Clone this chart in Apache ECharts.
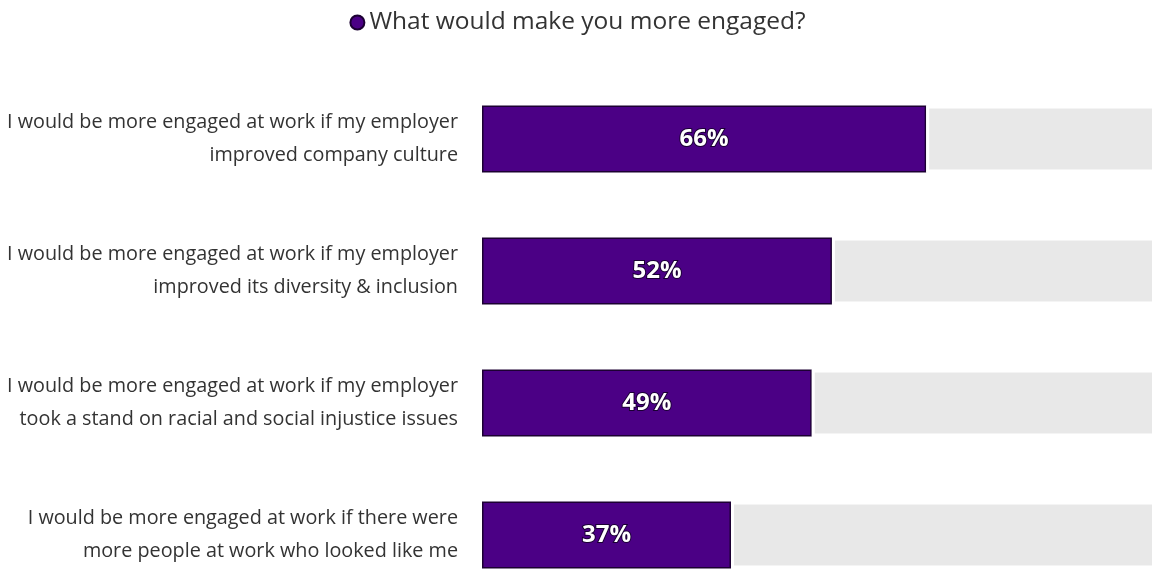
<!DOCTYPE html>
<html>
<head>
<meta charset="utf-8">
<script src="https://cdn.jsdelivr.net/npm/echarts@6/dist/echarts.min.js"></script>
<style>
  html, body { margin: 0; padding: 0; background: #fff; }
  #chart { width: 1155px; height: 572px; }
</style>
</head>
<body>
<div id="chart"></div>
<script>
// Survey statements and share of respondents agreeing (%)
const categories = [
  'I would be more engaged at work if my employer\nimproved company culture',
  'I would be more engaged at work if my employer\nimproved its diversity & inclusion',
  'I would be more engaged at work if my employer\ntook a stand on racial and social injustice issues',
  'I would be more engaged at work if there were\nmore people at work who looked like me'
];
const seriesName = 'What would make you more engaged?';
const values = [66, 52, 49, 37];
const scaleMax = 100;

// Remaining share that fills the grey track up to 100%
const remainder = values.map(v => scaleMax - v);

const chart = echarts.init(document.getElementById('chart'));
chart.setOption({
  animation: false,
  backgroundColor: '#ffffff',
  textStyle: { fontFamily: '"Open Sans", sans-serif' },
  legend: {
    data: [{ name: seriesName, icon: 'circle' }],
    top: 5,
    left: 'center',
    itemWidth: 14,
    itemHeight: 14,
    itemGap: 17,
    textStyle: { fontSize: 24.5, color: '#333', fontFamily: '"Open Sans", sans-serif' }
  },
  // category centres sit on the top and bottom grid edges
  grid: { left: 482, right: 0, top: 139, height: 396, containLabel: false },
  xAxis: {
    type: 'value',
    min: 0,
    max: scaleMax,
    show: false
  },
  yAxis: {
    type: 'category',
    inverse: true,
    boundaryGap: false,
    data: categories,
    axisLine: { show: false },
    axisTick: { show: false },
    axisLabel: {
      margin: 24,
      align: 'right',
      fontSize: 19.8,
      lineHeight: 33,
      color: '#333',
      fontFamily: '"Open Sans", sans-serif'
    }
  },
  series: [
    {
      name: seriesName,
      type: 'bar',
      stack: 'total',
      barWidth: 67,
      data: values,
      itemStyle: { color: '#4b0085', borderColor: '#1c0033', borderWidth: 1.5 },
      label: {
        show: true,
        position: 'inside',
        formatter: '{c}%',
        color: '#fff',
        fontSize: 24,
        fontWeight: 'bold',
        fontFamily: '"Open Sans", sans-serif',
        textBorderColor: '#1a0033',
        textBorderWidth: 2
      }
    },
    {
      name: 'rest',
      type: 'bar',
      stack: 'total',
      barWidth: 67,
      data: remainder,
      silent: true,
      itemStyle: { color: '#e8e8e8', borderColor: '#ffffff', borderWidth: 3 },
      label: { show: false }
    }
  ]
});
</script>
</body>
</html>
